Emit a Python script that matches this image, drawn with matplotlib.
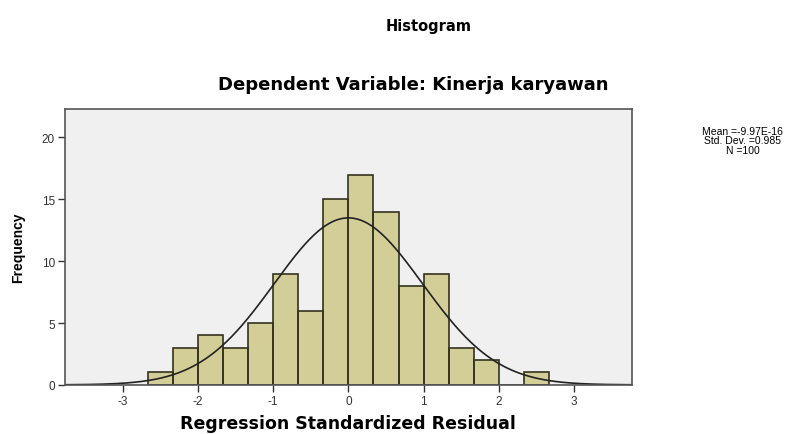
import numpy as np
import matplotlib
matplotlib.use("Agg")
import matplotlib.pyplot as plt

# bin edges and counts (bin width 1/3)
bin_edges = np.arange(-8, 9) / 3.0
counts = [1, 3, 4, 3, 5, 9, 6, 15, 17, 14, 8, 9, 3, 2, 0, 1]
mean_val = -9.97e-16
std_val = 0.985
n_total = 100

x_ticks = [-3, -2, -1, 0, 1, 2, 3]
y_ticks = [0, 5, 10, 15, 20]

plt.rcParams['font.family'] = ['Liberation Sans', 'DejaVu Sans']
plt.rcParams['axes.unicode_minus'] = False

fig = plt.figure(figsize=(7.9, 4.35), dpi=100)
ax = fig.add_axes([0.082, 0.113, 0.718, 0.634])
ax.set_facecolor('#f0f0f0')

ax.stairs(counts, bin_edges, fill=True, facecolor='#d3ce98', edgecolor='none')
ax.bar(bin_edges[:-1], counts, width=np.diff(bin_edges), align='edge',
       facecolor='none', edgecolor='#33331f', linewidth=1.2)

xs = np.linspace(-3.77, 3.77, 400)
width = bin_edges[1] - bin_edges[0]
pdf = np.exp(-0.5 * ((xs - mean_val) / std_val) ** 2) / (std_val * np.sqrt(2 * np.pi))
ax.plot(xs, n_total * width * pdf, color='#222222', linewidth=1.2)

ax.set_xlim(-3.77, 3.77)
ax.set_ylim(0, 22.3)
ax.set_xticks(x_ticks)
ax.set_yticks(y_ticks)
ax.tick_params(direction='out', length=5, width=1, labelsize=8.5, colors='#333333', pad=2)
for s in ax.spines.values():
    s.set_color('#555555')
    s.set_linewidth(1.2)

ax.set_xlabel('Regression Standardized Residual', fontsize=12.5, fontweight='bold',
              family='DejaVu Sans', labelpad=5)
ax.set_ylabel('Frequency', fontsize=10, fontweight='bold', labelpad=12)

fig.text(0.542, 0.94, 'Histogram', ha='center', va='center', fontsize=10.5,
         fontweight='bold', family='DejaVu Sans')
fig.text(0.523, 0.805, 'Dependent Variable: Kinerja karyawan', ha='center', va='center',
         fontsize=13, fontweight='bold', family='DejaVu Sans')
fig.text(0.94, 0.675, 'Mean =-9.97E-16\nStd. Dev. =0.985\nN =%d' % n_total,
         ha='center', va='center', fontsize=7.5, linespacing=0.92)

fig.savefig('out.png', dpi=100)
